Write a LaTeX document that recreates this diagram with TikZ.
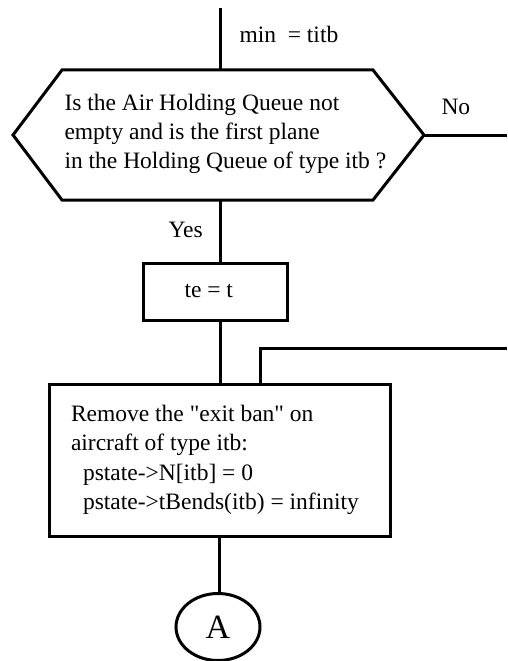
\documentclass[tikz,border=0pt]{standalone}
\usepackage{fontspec}
\setmainfont{Liberation Serif}
\usetikzlibrary{shapes.geometric}
\begin{document}
\begin{tikzpicture}[x=1pt,y=-1pt,
  line width=3pt,
  txt/.style={font=\fontsize{23.5}{29.3}\selectfont, inner sep=0pt},
  boxnode/.style={draw, line width=3pt, inner sep=0pt},
  conn/.style={draw, line width=3pt}]
\useasboundingbox (0,0) rectangle (507,661);
% coordinates
\coordinate (top) at (220,8);
\coordinate (hN) at (220,70);
\coordinate (hS) at (220,200);
\coordinate (hE) at (424,135);
\coordinate (hW) at (13,135);
\coordinate (hNW) at (62,70);
\coordinate (hNE) at (373,70);
\coordinate (hSE) at (373,200);
\coordinate (hSW) at (62,200);
\coordinate (noend) at (507,135);
\coordinate (rin) at (507,348);
\coordinate (rj) at (260,384);
% hexagon decision
\draw (hNW) -- (hNE) -- (hE) -- (hSE) -- (hSW) -- (hW) -- cycle;
\node[txt, anchor=west, align=left] (q) at (63,134)
  {Is the Air Holding Queue not\\empty and is the first plane\\in the Holding Queue of type itb ?};
% labels
\node[txt, anchor=base west] (minl) at (238,43) {min~~= titb};
\node[txt, anchor=base west] (nol) at (440,114) {No};
\node[txt, anchor=base west] (yesl) at (167,237) {Yes};
% te = t box
\node[boxnode, minimum width=144pt, minimum height=57pt] (te) at (215,291.5) {};
\node[txt, anchor=base west] (tet) at (183,297) {te = t};
% remove box
\node[boxnode, txt, minimum width=341pt, minimum height=152pt, text width=297pt, align=flush left] (rem) at (219.5,460)
  {Remove the \textquotedbl exit ban\textquotedbl{} on\\aircraft of type itb:\\\hspace*{12pt}pstate->N[itb] = 0\\\hspace*{12pt}pstate->tBends(itb) = infinity};
% connector A
\node[draw, ellipse, line width=3pt, minimum width=84pt, minimum height=67pt, inner sep=0pt,
  font=\fontsize{34}{40}\selectfont] (A) at (218,627) {A};
% connectors
\draw[conn] (top) -- (hN);
\draw[conn] (hE) -- (noend);
\draw[conn] (hS) -- (hS |- te.north);
\draw[conn] (hS |- te.south) -- (hS |- rem.north);
\draw[conn] (rin) -| (rj);
\draw[conn] (rem.south) -- (rem.south |- A.north);
\end{tikzpicture}
\end{document}
